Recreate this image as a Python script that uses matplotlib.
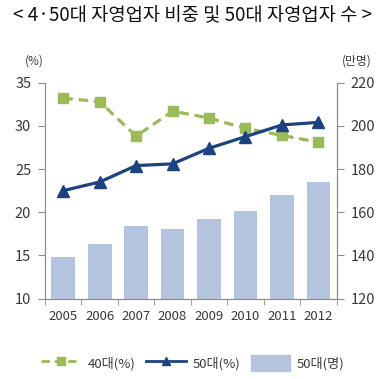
import numpy as np
import matplotlib
matplotlib.use("Agg")
import matplotlib.pyplot as plt
from matplotlib.patches import Patch
from matplotlib.lines import Line2D

plt.rcParams['font.family'] = ['Noto Sans CJK KR', 'DejaVu Sans']

years = ['2005', '2006', '2007', '2008', '2009', '2010', '2011', '2012']
share_40s = [33.2, 32.8, 28.8, 31.7, 30.9, 29.7, 28.9, 28.1]
share_50s = [22.5, 23.5, 25.4, 25.6, 27.4, 28.75, 30.1, 30.4]
count_50s = [139.2, 145.3, 153.6, 152.4, 156.9, 160.7, 168.0, 174.0]

green = '#9bbb59'
navy = '#1c4380'
bar_color = '#b4c3de'
spine_color = '#8c8c8c'
text_color = '#3a3a3a'

fig = plt.figure(figsize=(3.86, 3.79), dpi=100)
ax = fig.add_axes([0.1166, 0.212, 0.7554, 0.570])
ax2 = ax.twinx()

x = np.arange(len(years))

# bars on right axis, lines on left axis
ax2.bar(x, count_50s, width=0.65, color=bar_color, zorder=1)
ax2.set_ylim(120, 220)
ax2.set_yticks(np.arange(120, 221, 20))

ax.set_zorder(ax2.get_zorder() + 1)
ax.patch.set_visible(False)
ax.plot(x, share_40s, color=green, lw=2.3, ls=(0, (3, 1.8)), marker='s', ms=7.5,
        markeredgecolor=green, markerfacecolor=green)
ax.plot(x, share_50s, color=navy, lw=2.3, marker='^', ms=8.5,
        markeredgecolor=navy, markerfacecolor=navy)
ax.set_ylim(10, 35)
ax.set_yticks(np.arange(10, 36, 5))
ax.set_xlim(-0.5, len(years) - 0.5)

ax.set_xticks(x)
ax.set_xticklabels(years)
ax.set_xticks(np.arange(-0.5, len(years)), minor=True)
ax.tick_params(axis='x', which='major', length=0, pad=8)
ax.tick_params(axis='x', which='minor', length=4, color=spine_color)

for a in (ax, ax2):
    a.spines['top'].set_visible(False)
    for s in ('left', 'right', 'bottom'):
        a.spines[s].set_color(spine_color)
    a.tick_params(axis='y', length=5, color=spine_color, labelsize=10.5,
                  labelcolor=text_color, pad=5)
    a.tick_params(axis='x', labelsize=9.5, labelcolor=text_color)

fig.text(0.5, 0.958, '< 4·50대 자영업자 비중 및 50대 자영업자 수 >',
         ha='center', va='center', fontsize=13.5, color='#111111')
fig.text(0.09, 0.84, '(%)', ha='center', va='center', fontsize=8.5, color=text_color)
fig.text(0.925, 0.84, '(만명)', ha='center', va='center', fontsize=8.5, color=text_color)

handles = [
    Line2D([], [], color=green, lw=2, ls=(0, (3, 1.8)), marker='s', ms=6),
    Line2D([], [], color=navy, lw=2, marker='^', ms=6),
    Patch(color=bar_color),
]
labels = ['40대(%)', '50대(%)', '50대(명)']
fig.legend(handles, labels, loc='center', bbox_to_anchor=(0.5, 0.042), ncol=3,
           frameon=False, fontsize=9.5, handlelength=3.0, handleheight=1.4,
           columnspacing=0.8, handletextpad=0.5, labelcolor=text_color)

fig.savefig('out.png', dpi=100)
